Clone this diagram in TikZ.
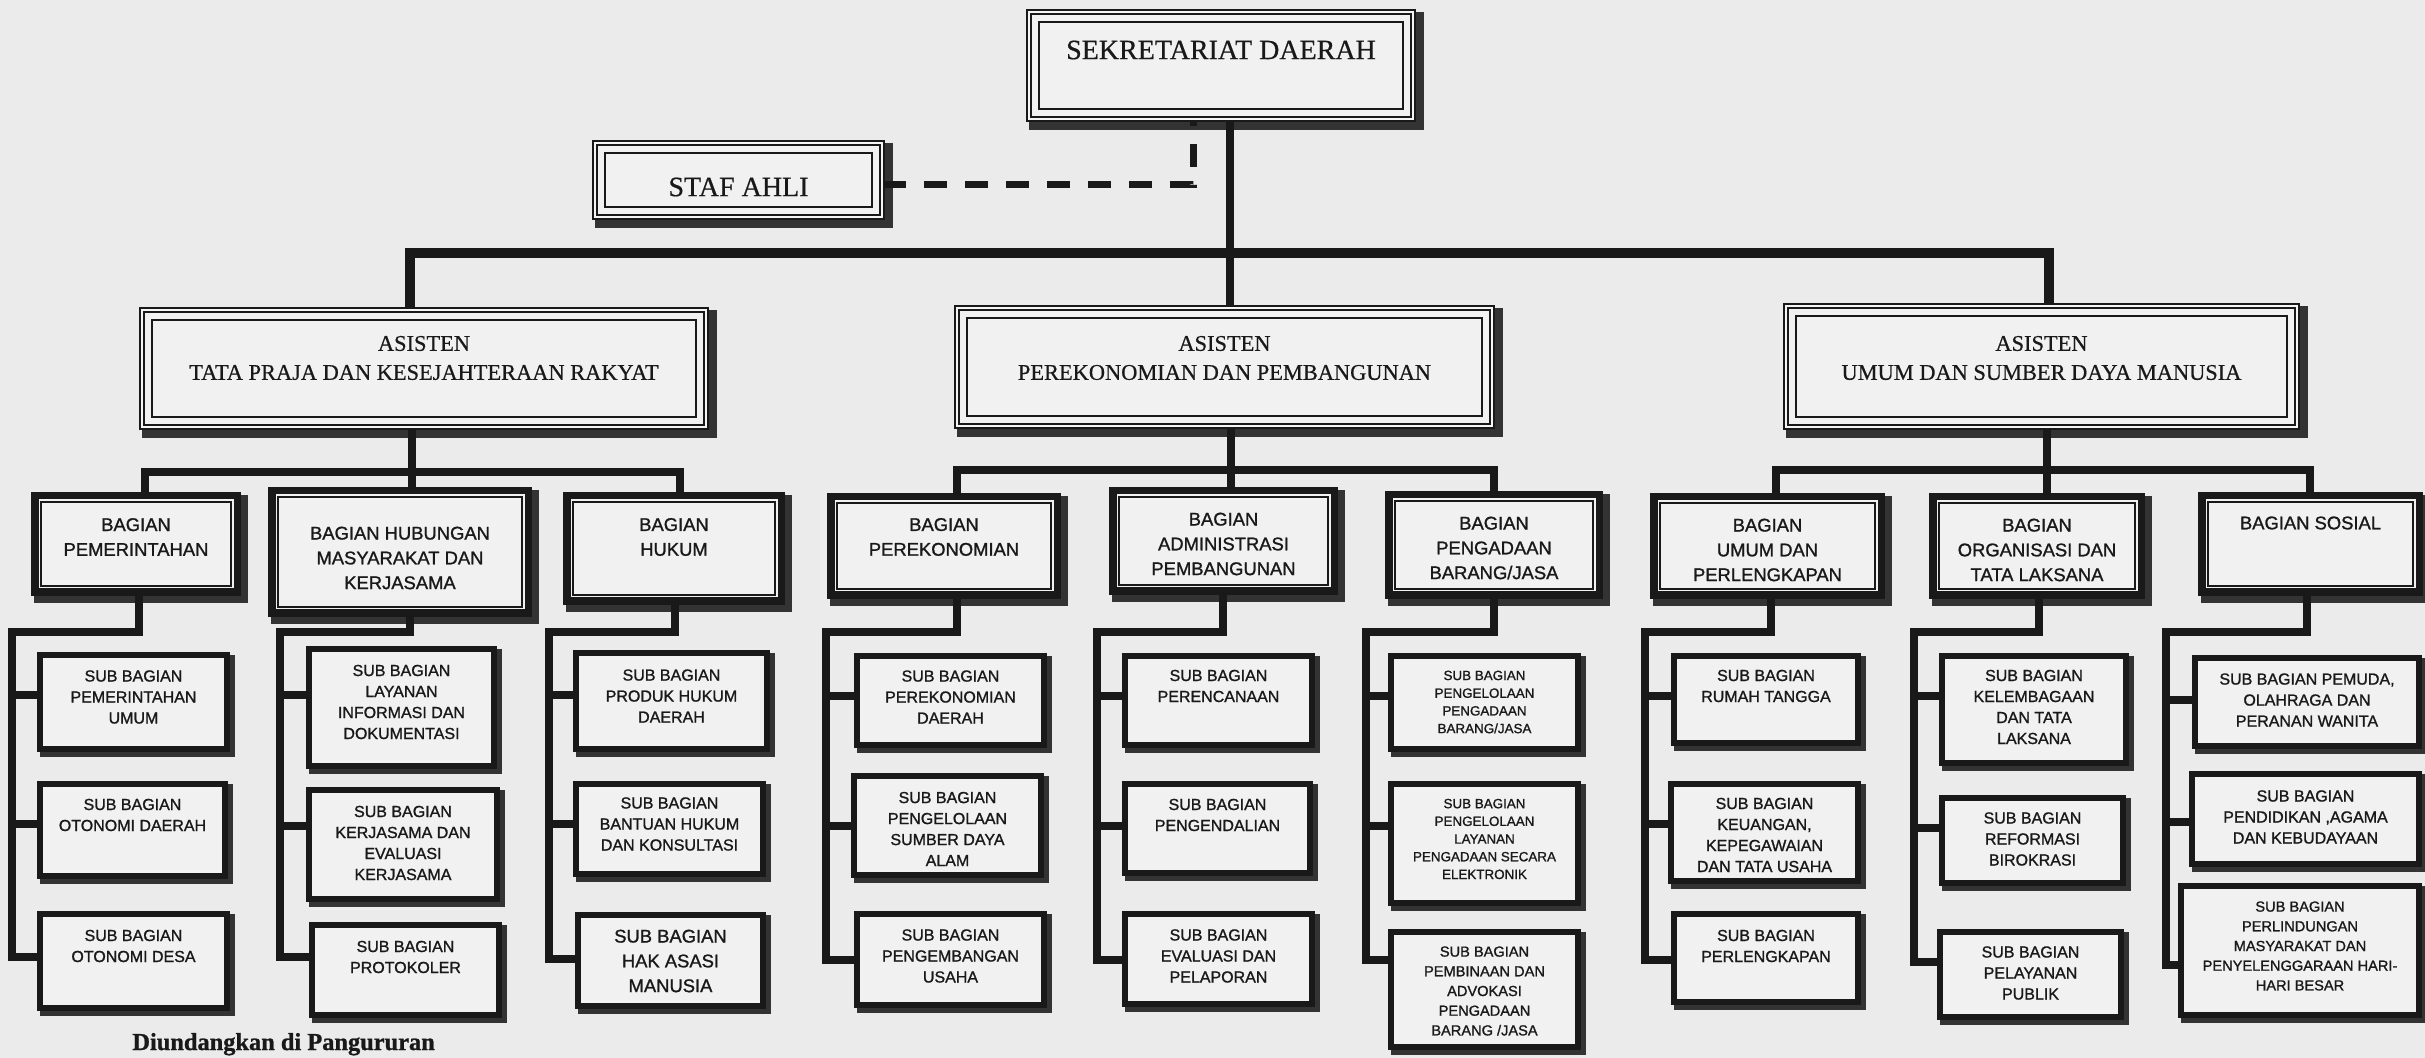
\documentclass[tikz,border=0pt]{standalone}
\usepackage{fontspec}
\setmainfont[FakeBold=0.6]{Liberation Serif}
\newfontfamily\sansf[FakeBold=1.2]{Liberation Sans}
\newfontfamily\footf[FakeBold=1]{Liberation Serif Bold}
\usetikzlibrary{calc}
\definecolor{bgc}{gray}{0.92}
\definecolor{boxc}{gray}{0.945}
\definecolor{inkc}{gray}{0.1}
\definecolor{shadc}{gray}{0.2}
% #1 style, #2 name, #3 x1, #4 y1, #5 x2, #6 y2 (outer edges incl. shadow), #7 half frame width, #8 shadow width
\newcommand\bx[8]{%
  \fill[shadc] ({#3+3},{#4+3}) rectangle (#5,#6);
  \node[#1, minimum width={(#5-#3-#8-2*#7)*0.5pt}, minimum height={(#6-#4-#8-2*#7)*0.5pt}] (#2) at ({(#3+#5-#8)/2},{(#4+#6-#8)/2}) {};}
\begin{document}
\begin{tikzpicture}[x=0.5pt,y=-0.5pt,
  hdr/.style={draw=inkc, line width=1.2pt, double=white!96!black, double distance=0.7pt, fill=boxc, inner sep=0pt,
    path picture={\draw[inkc, line width=0.9pt] ([shift={(4.8pt,-4.8pt)}]path picture bounding box.north west) rectangle ([shift={(-4.8pt,4.8pt)}]path picture bounding box.south east);}},
  bag/.style={draw=inkc, line width=3.75pt, fill=boxc, inner sep=0pt,
    path picture={\draw[inkc, line width=0.8pt] ([shift={(3.1pt,-3.1pt)}]path picture bounding box.north west) rectangle ([shift={(-3.1pt,3.1pt)}]path picture bounding box.south east);}},
  sub/.style={draw=inkc, line width=3pt, fill=boxc, inner sep=0pt},
  txs/.style={font=\sansf\fontsize{8}{10.5}\selectfont, align=center, text=inkc, inner sep=0pt},
  txb/.style={font=\sansf\fontsize{9.2}{12.4}\selectfont, align=center, text=inkc, inner sep=0pt},
  txss/.style={font=\sansf\fontsize{6.7}{8.85}\selectfont, align=center, text=inkc, inner sep=0pt},
  txsm/.style={font=\sansf\fontsize{7.3}{9.85}\selectfont, align=center, text=inkc, inner sep=0pt},
  txa/.style={font=\fontsize{11.2}{14.5}\selectfont, align=center, text=inkc, inner sep=0pt},
  txk/.style={font=\fontsize{14}{17}\selectfont, align=center, text=inkc, inner sep=0pt},
  conn/.style={draw=inkc, line width=4.2pt, line join=miter},
  dashc/.style={draw=inkc, line width=3.5pt, dash pattern=on 11.5pt off 9pt}]
\useasboundingbox (0,0) rectangle (2425,1058);
\clip (0,0) rectangle (2425,1058);
\fill[bgc] (0,0) rectangle (2425,1058);

% ---------- top ----------
\bx{hdr}{sek}{1026}{9}{1424}{130}{3.1}{8}
\node[txk] (sekt) at (sek.center |- 0,50) {SEKRETARIAT DAERAH};
\bx{hdr}{staf}{592}{140}{893}{228}{3.1}{8}
\node[txk] (staft) at (staf.center |- 0,187) {STAF AHLI};

% ---------- asisten ----------
\bx{hdr}{a1}{139}{307}{717}{438}{3.1}{8}
\node[txa] (a1t) at (a1.center |- 0,358) {ASISTEN\\TATA PRAJA DAN KESEJAHTERAAN RAKYAT};
\bx{hdr}{a2}{954}{305}{1503}{437}{3.1}{8}
\node[txa] (a2t) at (a2.center |- 0,358) {ASISTEN\\PEREKONOMIAN DAN PEMBANGUNAN};
\bx{hdr}{a3}{1783}{303}{2308}{438}{3.1}{8}
\node[txa] (a3t) at (a3.center |- 0,358) {ASISTEN\\UMUM DAN SUMBER DAYA MANUSIA};

% ---------- bagian ----------
\bx{bag}{bpem}{31}{492}{248}{603}{3.75}{7}
\node[txb] (bpemt) at (bpem.center |- 0,537) {BAGIAN\\PEMERINTAHAN};
\bx{bag}{bhub}{268}{487}{539}{624}{3.75}{7}
\node[txb] (bhubt) at (bhub.center |- 0,558) {BAGIAN HUBUNGAN\\MASYARAKAT DAN\\KERJASAMA};
\bx{bag}{bhuk}{563}{492}{792}{612}{3.75}{7}
\node[txb] (bhukt) at (bhuk.center |- 0,537) {BAGIAN\\HUKUM};
\bx{bag}{bper}{827}{493}{1068}{606}{3.75}{7}
\node[txb] (bpert) at (bper.center |- 0,537) {BAGIAN\\PEREKONOMIAN};
\bx{bag}{badm}{1109}{487}{1345}{602}{3.75}{7}
\node[txb] (badmt) at (badm.center |- 0,544) {BAGIAN\\ADMINISTRASI\\PEMBANGUNAN};
\bx{bag}{bpga}{1385}{491}{1610}{606}{3.75}{7}
\node[txb] (bpgat) at (bpga.center |- 0,548) {BAGIAN\\PENGADAAN\\BARANG/JASA};
\bx{bag}{bum}{1650}{493}{1892}{606}{3.75}{7}
\node[txb] (bumt) at (bum.center |- 0,550) {BAGIAN\\UMUM DAN\\PERLENGKAPAN};
\bx{bag}{borg}{1929}{493}{2152}{606}{3.75}{7}
\node[txb] (borgt) at (borg.center |- 0,550) {BAGIAN\\ORGANISASI DAN\\TATA LAKSANA};
\bx{bag}{bsos}{2198}{492}{2430}{603}{3.75}{7}
\node[txb] (bsost) at (bsos.center |- 0,523) {BAGIAN SOSIAL};

% ---------- sub bagian ----------
\bx{sub}{pem1}{37}{652}{235}{757}{3}{5}
\node[txs] (pem1t) at (pem1.center |- 0,697) {SUB BAGIAN\\PEMERINTAHAN\\UMUM};
\bx{sub}{pem2}{37}{781}{233}{884}{3}{5}
\node[txs] (pem2t) at (pem2.center |- 0,815) {SUB BAGIAN\\OTONOMI DAERAH};
\bx{sub}{pem3}{37}{911}{235}{1016}{3}{5}
\node[txs] (pem3t) at (pem3.center |- 0,946) {SUB BAGIAN\\OTONOMI DESA};

\bx{sub}{hub1}{306}{646}{502}{774}{3}{5}
\node[txs] (hub1t) at (hub1.center |- 0,702) {SUB BAGIAN\\LAYANAN\\INFORMASI DAN\\DOKUMENTASI};
\bx{sub}{hub2}{306}{787}{505}{907}{3}{5}
\node[txs] (hub2t) at (hub2.center |- 0,843) {SUB BAGIAN\\KERJASAMA DAN\\EVALUASI\\KERJASAMA};
\bx{sub}{hub3}{309}{922}{507}{1023}{3}{5}
\node[txs] (hub3t) at (hub3.center |- 0,957) {SUB BAGIAN\\PROTOKOLER};

\bx{sub}{huk1}{573}{650}{775}{757}{3}{5}
\node[txs] (huk1t) at (huk1.center |- 0,696) {SUB BAGIAN\\PRODUK HUKUM\\DAERAH};
\bx{sub}{huk2}{573}{781}{771}{882}{3}{5}
\node[txs] (huk2t) at (huk2.center |- 0,824) {SUB BAGIAN\\BANTUAN HUKUM\\DAN KONSULTASI};
\bx{sub}{huk3}{575}{912}{771}{1014}{3}{5}
\node[txb] (huk3t) at (huk3.center |- 0,961) {SUB BAGIAN\\HAK ASASI\\MANUSIA};

\bx{sub}{per1}{854}{653}{1052}{753}{3}{5}
\node[txs] (per1t) at (per1.center |- 0,697) {SUB BAGIAN\\PEREKONOMIAN\\DAERAH};
\bx{sub}{per2}{851}{773}{1049}{883}{3}{5}
\node[txs] (per2t) at (per2.center |- 0,829) {SUB BAGIAN\\PENGELOLAAN\\SUMBER DAYA\\ALAM};
\bx{sub}{per3}{854}{911}{1052}{1013}{3}{5}
\node[txs] (per3t) at (per3.center |- 0,956) {SUB BAGIAN\\PENGEMBANGAN\\USAHA};

\bx{sub}{adm1}{1122}{653}{1320}{753}{3}{5}
\node[txs] (adm1t) at (adm1.center |- 0,686) {SUB BAGIAN\\PERENCANAAN};
\bx{sub}{adm2}{1122}{781}{1318}{881}{3}{5}
\node[txs] (adm2t) at (adm2.center |- 0,815) {SUB BAGIAN\\PENGENDALIAN};
\bx{sub}{adm3}{1122}{911}{1320}{1012}{3}{5}
\node[txs] (adm3t) at (adm3.center |- 0,956) {SUB BAGIAN\\EVALUASI DAN\\PELAPORAN};

\bx{sub}{pga1}{1388}{653}{1586}{757}{3}{5}
\node[txss] (pga1t) at (pga1.center |- 0,702) {SUB BAGIAN\\PENGELOLAAN\\PENGADAAN\\BARANG/JASA};
\bx{sub}{pga2}{1388}{781}{1586}{911}{3}{5}
\node[txss] (pga2t) at (pga2.center |- 0,839) {SUB BAGIAN\\PENGELOLAAN\\LAYANAN\\PENGADAAN SECARA\\ELEKTRONIK};
\bx{sub}{pga3}{1388}{929}{1586}{1055}{3}{5}
\node[txsm] (pga3t) at (pga3.center |- 0,991) {SUB BAGIAN\\PEMBINAAN DAN\\ADVOKASI\\PENGADAAN\\BARANG /JASA};

\bx{sub}{um1}{1671}{653}{1866}{751}{3}{5}
\node[txs] (um1t) at (um1.center |- 0,686) {SUB BAGIAN\\RUMAH TANGGA};
\bx{sub}{um2}{1668}{781}{1866}{889}{3}{5}
\node[txs] (um2t) at (um2.center |- 0,835) {SUB BAGIAN\\KEUANGAN,\\KEPEGAWAIAN\\DAN TATA USAHA};
\bx{sub}{um3}{1671}{911}{1866}{1010}{3}{5}
\node[txs] (um3t) at (um3.center |- 0,946) {SUB BAGIAN\\PERLENGKAPAN};

\bx{sub}{org1}{1939}{653}{2134}{771}{3}{5}
\node[txs] (org1t) at (org1.center |- 0,707) {SUB BAGIAN\\KELEMBAGAAN\\DAN TATA\\LAKSANA};
\bx{sub}{org2}{1939}{795}{2131}{891}{3}{5}
\node[txs] (org2t) at (org2.center |- 0,839) {SUB BAGIAN\\REFORMASI\\BIROKRASI};
\bx{sub}{org3}{1937}{929}{2129}{1025}{3}{5}
\node[txs] (org3t) at (org3.center |- 0,973) {SUB BAGIAN\\PELAYANAN\\PUBLIK};

\bx{sub}{sos1}{2192}{655}{2427}{754}{3}{5}
\node[txs] (sos1t) at (sos1.center |- 0,700) {SUB BAGIAN PEMUDA,\\OLAHRAGA DAN\\PERANAN WANITA};
\bx{sub}{sos2}{2189}{771}{2427}{872}{3}{5}
\node[txs] (sos2t) at (sos2.center |- 0,817) {SUB BAGIAN\\PENDIDIKAN ,AGAMA\\DAN KEBUDAYAAN};
\bx{sub}{sos3}{2178}{883}{2427}{1023}{3}{5}
\node[txsm] (sos3t) at (sos3.center |- 0,946) {SUB BAGIAN\\PERLINDUNGAN\\MASYARAKAT DAN\\PENYELENGGARAAN HARI-\\HARI BESAR};

% ---------- connectors: top ----------
\coordinate (tL) at (410,253);
\coordinate (tM) at (1230,253);
\coordinate (tR) at (2049,253);
\draw[conn, line width=3.6pt] (sek.south -| tM) -- (a2.north -| tM);
\draw[conn, line width=4.6pt] (a1.north -| tL) -- (tL) -- (tR) -- (a3.north -| tR);
\coordinate (dC) at (1193,185);
\draw[dashc] (staf.east |- dC) -- (dC) -- (sek.south -| dC);

% ---------- connectors: asisten -> bagian ----------
\coordinate (g1L) at (145,472);
\coordinate (g1M) at (412,472);
\coordinate (g1R) at (680,472);
\draw[conn] (bpem.north -| g1L) -- (g1L) -- (g1R) -- (bhuk.north -| g1R);
\draw[conn] (a1.south -| g1M) -- (bhub.north -| g1M);

\coordinate (g2L) at (957,470);
\coordinate (g2M) at (1231,470);
\coordinate (g2R) at (1494,470);
\draw[conn] (bper.north -| g2L) -- (g2L) -- (g2R) -- (bpga.north -| g2R);
\draw[conn] (a2.south -| g2M) -- (badm.north -| g2M);

\coordinate (g3L) at (1776,470);
\coordinate (g3M) at (2047,470);
\coordinate (g3R) at (2310,470);
\draw[conn] (bum.north -| g3L) -- (g3L) -- (g3R) -- (bsos.north -| g3R);
\draw[conn] (a3.south -| g3M) -- (borg.north -| g3M);

% ---------- connectors: bagian -> sub bagian ----------
% #1 prefix, #2 drop x, #3 spine x, #4 y1, #5 y2, #6 y3, #7 bagian node
\newcommand\grp[7]{%
  \coordinate (#1D) at (#2,632);
  \coordinate (#1J) at (#3,632);
  \draw[conn] (#7.south -| #1D) -- (#1D) -- (#1J) |- (#13.west |- 0,#6);
  \draw[conn] (#1J |- 0,#4) -- (#11.west |- 0,#4);
  \draw[conn] (#1J |- 0,#5) -- (#12.west |- 0,#5);}
\grp{pem}{139}{12}{695}{824}{957}{bpem}
\grp{hub}{410}{280}{695}{826}{957}{bhub}
\grp{huk}{675}{549}{695}{824}{959}{bhuk}
\grp{per}{957}{826}{696}{826}{960}{bper}
\grp{adm}{1223}{1097}{696}{826}{960}{badm}
\grp{pga}{1494}{1366}{696}{826}{960}{bpga}
\grp{um}{1771}{1645}{696}{824}{960}{bum}
\grp{org}{2039}{1914}{696}{828}{962}{borg}
\grp{sos}{2307}{2166}{700}{822}{965}{bsos}

% ---------- footer ----------
\node[font=\footf\fontsize{12.2}{14}\selectfont, anchor=base west, inner sep=0pt, text=inkc] (diund) at (132,1050) {Diundangkan di Pangururan};
\end{tikzpicture}
\end{document}
